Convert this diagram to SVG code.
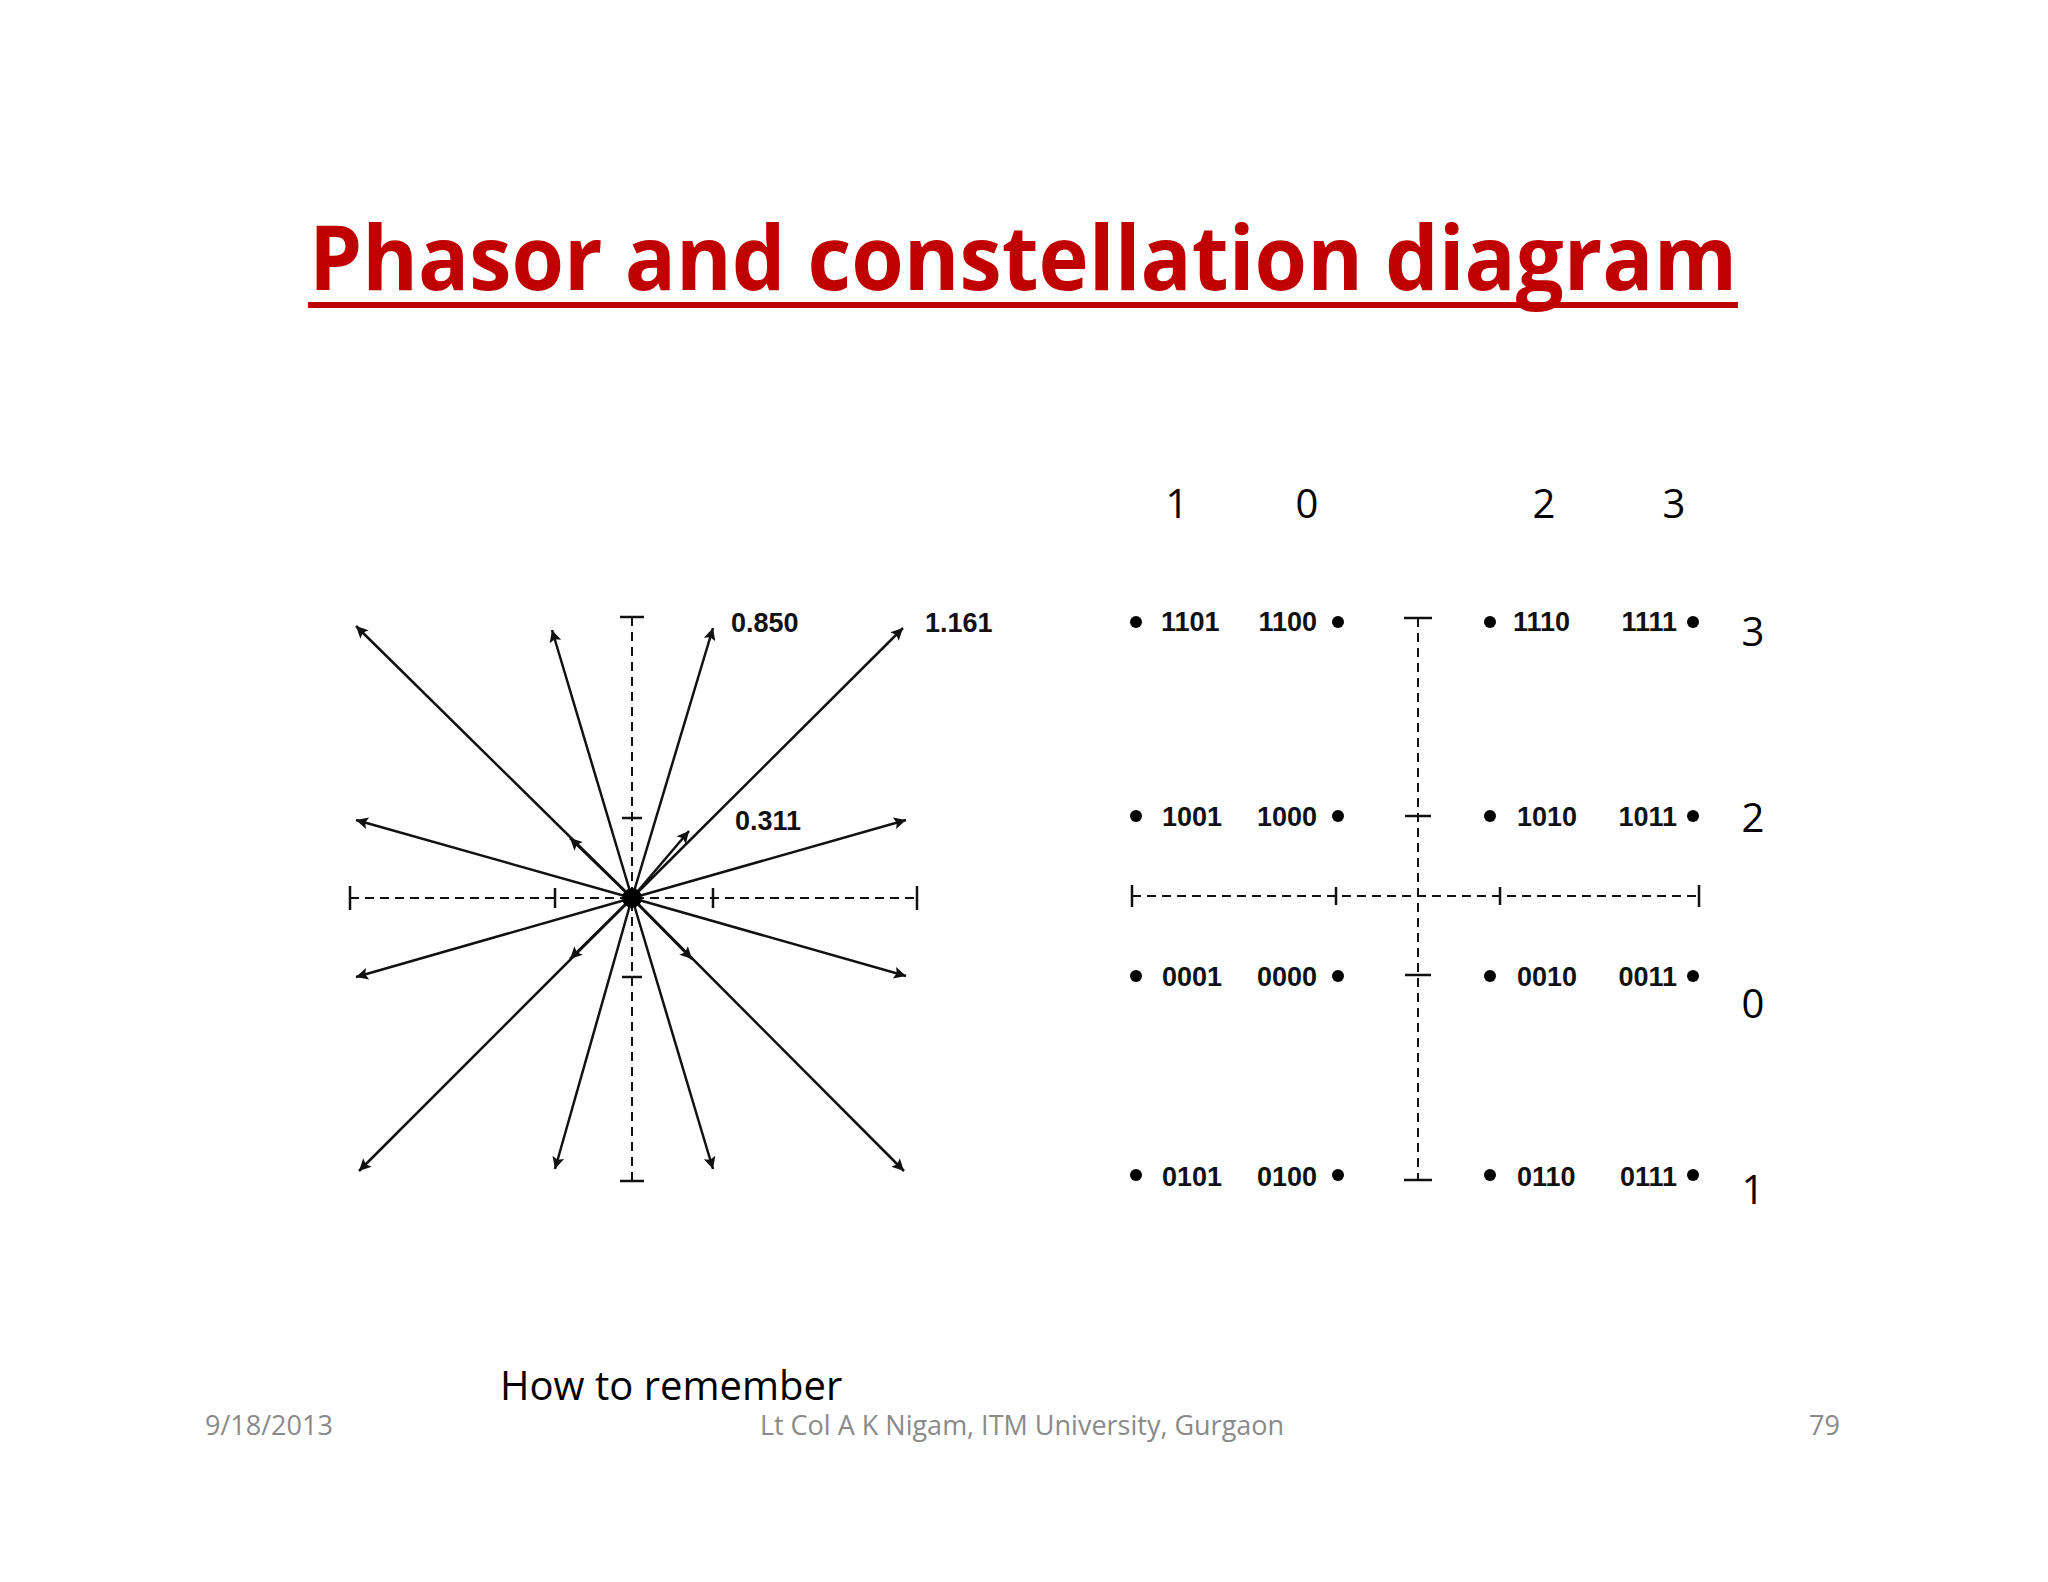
<svg xmlns="http://www.w3.org/2000/svg" width="2048" height="1582" viewBox="0 0 2048 1582">
<style>
.ax{stroke:#111;stroke-width:2;stroke-dasharray:9 6;fill:none}
.tk{stroke:#111;stroke-width:2.5}
.lb{font-family:"Liberation Sans",Arial,sans-serif;font-weight:bold;font-size:27px;fill:#111}
.cl{font-family:"Open Sans","Liberation Sans",sans-serif;font-size:40px;fill:#000}
.ft{font-family:"Open Sans","Liberation Sans",sans-serif;font-size:27px;fill:#8a8a8a}
</style>
<defs><marker id="ah2" viewBox="0 0 10 10" refX="10" refY="5" markerWidth="24" markerHeight="12" orient="auto" markerUnits="userSpaceOnUse"><path d="M0,0 10,5 0,10 2,5z" fill="#111"/></marker></defs>
<rect width="2048" height="1582" fill="#fff"/>
<g id="title"><text x="1023" y="290" text-anchor="middle" font-family="'Open Sans','Liberation Sans',sans-serif" font-weight="bold" font-size="90" fill="#c00000" textLength="1428" lengthAdjust="spacingAndGlyphs">Phasor and constellation diagram</text><rect x="308" y="302" width="1430" height="6" fill="#c00000"/></g>
<g id="phasor">
<path class="ax" d="M350,898H917M632,617V1181"/>
<path class="tk" d="M350,886V910M555,888V908M713,888V908M917,886V910M620,617H644M622,818H642M622,977H642M620,1181H644"/>
<g style="marker-end:url(#ah2)" stroke="#111" stroke-width="2.5">
<line x1="632" y1="898" x2="356" y2="626"/><line x1="632" y1="898" x2="552" y2="630"/><line x1="632" y1="898" x2="713" y2="628"/><line x1="632" y1="898" x2="903" y2="628"/>
<line x1="632" y1="898" x2="356" y2="820"/><line x1="632" y1="898" x2="906" y2="820"/><line x1="632" y1="898" x2="356" y2="977"/><line x1="632" y1="898" x2="906" y2="976"/>
<line x1="632" y1="898" x2="359" y2="1171"/><line x1="632" y1="898" x2="555" y2="1169"/><line x1="632" y1="898" x2="713" y2="1169"/><line x1="632" y1="898" x2="904" y2="1171"/>
<line x1="632" y1="898" x2="570" y2="838"/><line x1="632" y1="898" x2="689" y2="831"/><line x1="632" y1="898" x2="570" y2="959"/><line x1="632" y1="898" x2="692" y2="959"/>
</g>
<circle cx="632" cy="898" r="10" fill="#000"/>
<text class="lb" x="731" y="632">0.850</text><text class="lb" x="925" y="632">1.161</text><text class="lb" x="735" y="830">0.311</text>
</g>
<g id="constellation">
<path class="ax" d="M1132,896H1699M1418,618V1180"/>
<path class="tk" d="M1132,885V907M1336,887V905M1500,887V905M1699,885V907M1404,618H1432M1405,816H1431M1405,975H1431M1404,1180H1432"/>
<g fill="#000"><circle cx="1136" cy="622" r="6"/><circle cx="1338" cy="622" r="6"/><circle cx="1490" cy="622" r="6"/><circle cx="1693" cy="622" r="6"/>
<circle cx="1136" cy="816" r="6"/><circle cx="1338" cy="816" r="6"/><circle cx="1490" cy="816" r="6"/><circle cx="1693" cy="816" r="6"/>
<circle cx="1136" cy="976" r="6"/><circle cx="1338" cy="976" r="6"/><circle cx="1490" cy="976" r="6"/><circle cx="1693" cy="976" r="6"/>
<circle cx="1136" cy="1175" r="6"/><circle cx="1338" cy="1175" r="6"/><circle cx="1490" cy="1175" r="6"/><circle cx="1693" cy="1175" r="6"/></g>
<g class="lb"><text x="1161" y="631">1101</text><text x="1317" y="631" text-anchor="end">1100</text><text x="1513" y="631">1110</text><text x="1677" y="631" text-anchor="end">1111</text>
<text x="1162" y="826">1001</text><text x="1317" y="826" text-anchor="end">1000</text><text x="1517" y="826">1010</text><text x="1677" y="826" text-anchor="end">1011</text>
<text x="1162" y="986">0001</text><text x="1317" y="986" text-anchor="end">0000</text><text x="1517" y="986">0010</text><text x="1677" y="986" text-anchor="end">0011</text>
<text x="1162" y="1186">0101</text><text x="1317" y="1186" text-anchor="end">0100</text><text x="1517" y="1186">0110</text><text x="1677" y="1186" text-anchor="end">0111</text></g>
<g class="cl" text-anchor="middle"><text x="1177" y="518">1</text><text x="1307" y="518">0</text><text x="1544" y="518">2</text><text x="1674" y="518">3</text>
<text x="1753" y="646">3</text><text x="1753" y="832">2</text><text x="1753" y="1018">0</text><text x="1753" y="1204">1</text></g>
</g>
<text x="500" y="1400" class="cl">How to remember</text>
<text x="205" y="1435" class="ft">9/18/2013</text>
<text x="1022" y="1435" class="ft" text-anchor="middle">Lt Col A K Nigam, ITM University, Gurgaon</text>
<text x="1840" y="1435" class="ft" text-anchor="end">79</text>
</svg>
